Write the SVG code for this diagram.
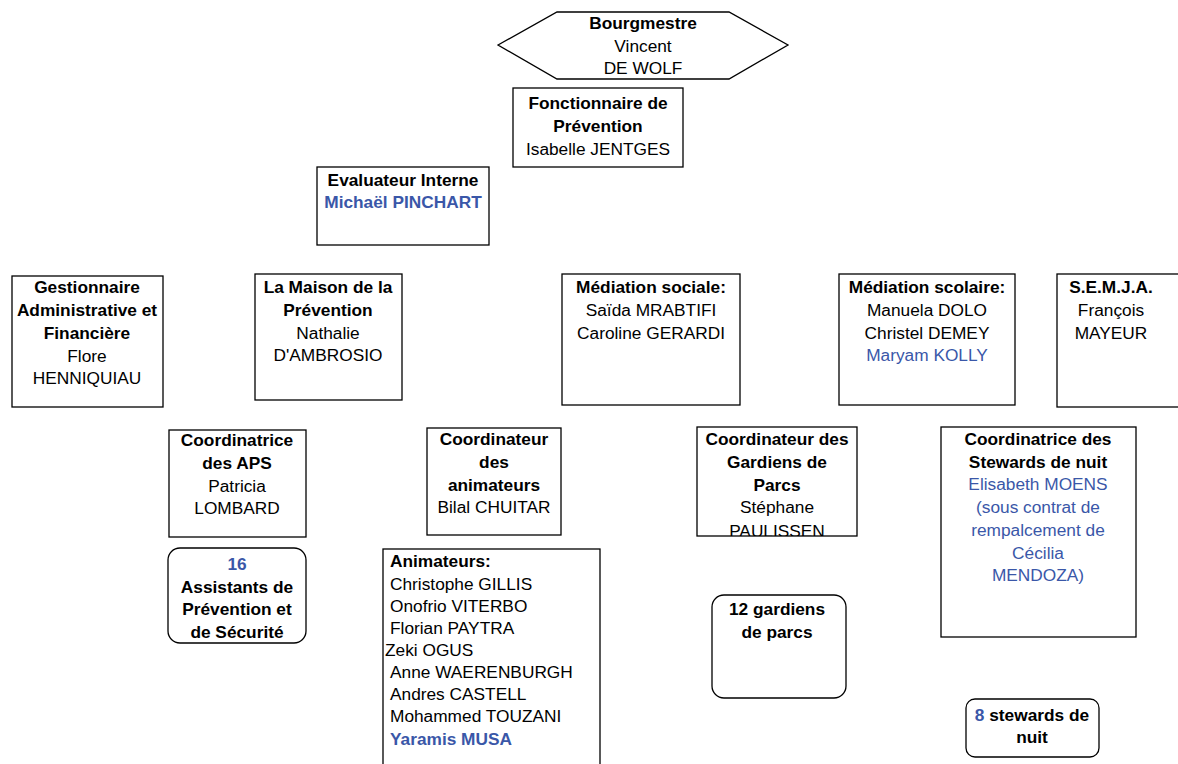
<svg xmlns="http://www.w3.org/2000/svg" width="1178" height="764" viewBox="0 0 1178 764">
<style>
text{font-family:"Liberation Sans",Arial,sans-serif;font-size:17.3px;fill:#000}
.c{text-anchor:middle}
.b{font-weight:bold}
.bl{fill:#3A57A8}
.box{fill:#fff;stroke:#000;stroke-width:1.3}
</style>
<defs>
<clipPath id="clipG"><rect x="697" y="427" width="160" height="109"/></clipPath>
</defs>
<rect width="1178" height="764" fill="#fff"/>
<g id="connectors"></g>
<g id="bourgmestre">
<polygon class="box" points="498,45 557,12 729,12 788,45 729,79 557,79"/>
<text class="c b" x="643" y="29">Bourgmestre</text>
<text class="c" x="643" y="52">Vincent</text>
<text class="c" x="643" y="74">DE WOLF</text>
</g>
<g id="fonctionnaire">
<rect class="box" x="513" y="88" width="170" height="79"/>
<text class="c b" x="598" y="109">Fonctionnaire de</text>
<text class="c b" x="598" y="132">Prévention</text>
<text class="c" x="598" y="155">Isabelle JENTGES</text>
</g>
<g id="evaluateur">
<rect class="box" x="317" y="167" width="172" height="78"/>
<text class="c b" x="403" y="186">Evaluateur Interne</text>
<text class="c b bl" x="403" y="208">Michaël PINCHART</text>
</g>
<g id="gestionnaire">
<rect class="box" x="12" y="276" width="151" height="131"/>
<text class="c b" x="87" y="293">Gestionnaire</text>
<text class="c b" x="87" y="316">Administrative et</text>
<text class="c b" x="87" y="339">Financière</text>
<text class="c" x="87" y="362">Flore</text>
<text class="c" x="87" y="384">HENNIQUIAU</text>
</g>
<g id="maison">
<rect class="box" x="255" y="274" width="147" height="126"/>
<text class="c b" x="328" y="293">La Maison de la</text>
<text class="c b" x="328" y="316">Prévention</text>
<text class="c" x="328" y="339">Nathalie</text>
<text class="c" x="328" y="361">D'AMBROSIO</text>
</g>
<g id="mediation-sociale">
<rect class="box" x="562" y="274" width="178" height="131"/>
<text class="c b" x="651" y="293">Médiation sociale:</text>
<text class="c" x="651" y="316">Saïda MRABTIFI</text>
<text class="c" x="651" y="339">Caroline GERARDI</text>
</g>
<g id="mediation-scolaire">
<rect class="box" x="839" y="274" width="176" height="131"/>
<text class="c b" x="927" y="293">Médiation scolaire:</text>
<text class="c" x="927" y="316">Manuela DOLO</text>
<text class="c" x="927" y="339">Christel DEMEY</text>
<text class="c bl" x="927" y="361">Maryam KOLLY</text>
</g>
<g id="semja">
<rect class="box" x="1057" y="274" width="130" height="133"/>
<text class="c b" x="1111" y="293">S.E.M.J.A.</text>
<text class="c" x="1111" y="316">François</text>
<text class="c" x="1111" y="339">MAYEUR</text>
</g>
<g id="coord-aps">
<rect class="box" x="169" y="430" width="137" height="107"/>
<text class="c b" x="237" y="446">Coordinatrice</text>
<text class="c b" x="237" y="469">des APS</text>
<text class="c" x="237" y="492">Patricia</text>
<text class="c" x="237" y="514">LOMBARD</text>
</g>
<g id="coord-animateurs">
<rect class="box" x="427" y="428" width="134" height="107"/>
<text class="c b" x="494" y="445">Coordinateur</text>
<text class="c b" x="494" y="468">des</text>
<text class="c b" x="494" y="491">animateurs</text>
<text class="c" x="494" y="513">Bilal CHUITAR</text>
</g>
<g id="coord-gardiens">
<rect x="697" y="427" width="160" height="109" fill="#fff"/>
<g clip-path="url(#clipG)">
<text class="c b" x="777" y="445">Coordinateur des</text>
<text class="c b" x="777" y="468">Gardiens de</text>
<text class="c b" x="777" y="491">Parcs</text>
<text class="c" x="777" y="513">Stéphane</text>
<text class="c" x="777" y="537">PAULISSEN</text>
</g>
<rect x="697" y="427" width="160" height="109" fill="none" stroke="#000" stroke-width="1.3"/>
</g>
<g id="coord-stewards">
<rect class="box" x="941" y="427" width="195" height="210"/>
<text class="c b" x="1038" y="445">Coordinatrice des</text>
<text class="c b" x="1038" y="468">Stewards de nuit</text>
<text class="c bl" x="1038" y="490">Elisabeth MOENS</text>
<text class="c bl" x="1038" y="513">(sous contrat de</text>
<text class="c bl" x="1038" y="536">rempalcement de</text>
<text class="c bl" x="1038" y="559">Cécilia</text>
<text class="c bl" x="1038" y="581">MENDOZA)</text>
</g>
<g id="assistants">
<rect class="box" x="168" y="548" width="138" height="95" rx="12" ry="12"/>
<text class="c b bl" x="237" y="570">16</text>
<text class="c b" x="237" y="593">Assistants de</text>
<text class="c b" x="237" y="615">Prévention et</text>
<text class="c b" x="237" y="638">de Sécurité</text>
</g>
<g id="animateurs">
<rect class="box" x="383" y="549" width="217" height="230"/>
<text class="b" x="390" y="567">Animateurs:</text>
<text x="390" y="590">Christophe GILLIS</text>
<text x="390" y="612">Onofrio VITERBO</text>
<text x="390" y="634">Florian PAYTRA</text>
<text x="385" y="656">Zeki OGUS</text>
<text x="390" y="678">Anne WAERENBURGH</text>
<text x="390" y="700">Andres CASTELL</text>
<text x="390" y="722">Mohammed TOUZANI</text>
<text class="b bl" x="390" y="745">Yaramis MUSA</text>
</g>
<g id="gardiens">
<rect class="box" x="712" y="595" width="134" height="103" rx="12" ry="12"/>
<text class="c b" x="777" y="615">12 gardiens</text>
<text class="c b" x="777" y="638">de parcs</text>
</g>
<g id="stewards">
<rect class="box" x="966" y="699" width="133" height="58" rx="9" ry="9"/>
<text class="c b" x="1032" y="721"><tspan class="bl">8</tspan> stewards de</text>
<text class="c b" x="1032" y="743">nuit</text>
</g>
</svg>
